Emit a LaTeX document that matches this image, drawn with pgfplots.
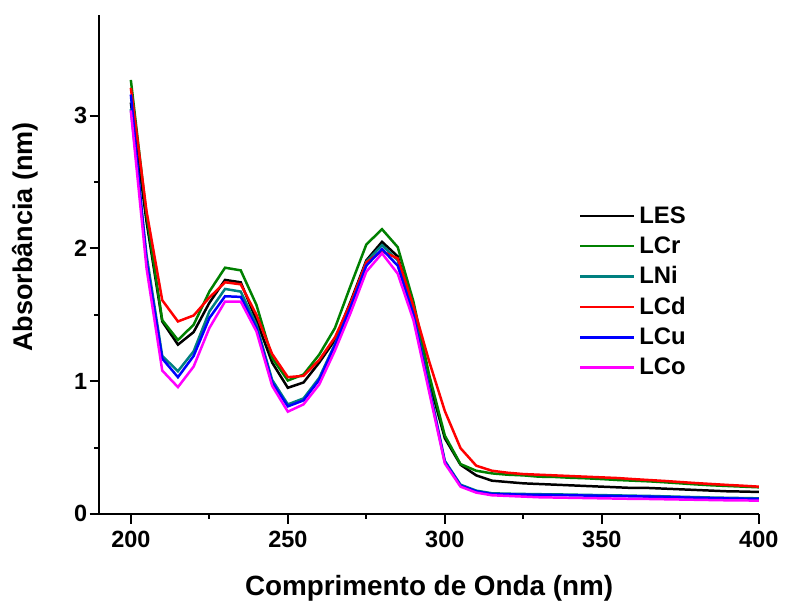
\documentclass[border=0pt]{standalone}
\usepackage{fontspec}
\setmainfont{Liberation Sans}
\usepackage{pgfplots}
\pgfplotsset{compat=1.18}

\definecolor{cLES}{RGB}{0,0,0}
\definecolor{cLCr}{RGB}{0,128,0}
\definecolor{cLNi}{RGB}{0,128,128}
\definecolor{cLCd}{RGB}{255,0,0}
\definecolor{cLCu}{RGB}{0,0,255}
\definecolor{cLCo}{RGB}{255,0,255}

\begin{document}
\begin{tikzpicture}
\begin{axis}[
  scale only axis,
  width=331.5pt, height=250.85pt,
  xmin=190, xmax=400,
  ymin=0, ymax=3.76,
  axis lines*=left,
  axis line style={line width=1pt},
  xtick={200,250,300,350,400},
  ytick={0,1,2,3},
  minor x tick num=1,
  minor y tick num=1,
  tick align=outside,
  major tick length=5pt,
  minor tick length=2.5pt,
  tick style={line width=1pt, black},
  /pgf/number format/assume math mode=true,
  tick label style={font=\fontsize{11.8}{13}\selectfont\bfseries},
  yticklabel style={inner sep=1pt},
  xlabel={Comprimento de Onda (nm)},
  ylabel={Absorbância (nm)},
  label style={font=\fontsize{14}{16}\selectfont\bfseries},
  xlabel style={at={(rel axis cs:0.5,0)}, anchor=base, yshift=-41pt},
  ylabel style={at={(rel axis cs:0,0.555)}, anchor=base, yshift=33.5pt,
    font=\fontsize{13.6}{16}\selectfont\bfseries},
  legend style={draw=none, fill=none, at={(rel axis cs:0.727,0.625)},
    anchor=north west, font=\fontsize{12}{13}\selectfont\bfseries,
    row sep=1.2pt, inner sep=0pt, cells={anchor=west}},
  legend image code/.code={\draw[#1] (0pt,0pt) -- (27pt,0pt);},
  every axis plot/.append style={line width=1.25pt},
  clip=false,
]
\addplot[cLES] coordinates {
(200,3.10)(205,2.20)(210,1.45)(215,1.275)(220,1.37)(225,1.59)(230,1.763)(235,1.745)
(240,1.46)(245,1.14)(250,0.95)(255,0.99)(260,1.14)(265,1.31)(270,1.60)(275,1.91)
(280,2.05)(285,1.94)(290,1.55)(295,1.00)(300,0.57)(305,0.37)(310,0.29)(315,0.25)
(320,0.24)(325,0.23)(330,0.225)(335,0.22)(340,0.215)(345,0.21)(350,0.205)(355,0.20)
(360,0.195)(365,0.195)(370,0.19)(375,0.185)(380,0.18)(385,0.175)(390,0.17)(395,0.168)
(400,0.165)};
\addlegendentry{LES}
\addplot[cLCr] coordinates {
(200,3.27)(205,2.25)(210,1.46)(215,1.31)(220,1.425)(225,1.675)(230,1.855)(235,1.835)
(240,1.575)(245,1.175)(250,1.005)(255,1.05)(260,1.20)(265,1.40)(270,1.72)(275,2.03)
(280,2.145)(285,2.01)(290,1.60)(295,1.05)(300,0.59)(305,0.375)(310,0.325)(315,0.305)
(320,0.295)(325,0.29)(330,0.28)(335,0.278)(340,0.272)(345,0.268)(350,0.262)(355,0.255)
(360,0.25)(365,0.245)(370,0.238)(375,0.23)(380,0.222)(385,0.215)(390,0.21)(395,0.205)
(400,0.20)};
\addlegendentry{LCr}
\addplot[cLNi] coordinates {
(200,3.05)(205,1.95)(210,1.19)(215,1.075)(220,1.225)(225,1.525)(230,1.695)(235,1.675)
(240,1.425)(245,1.01)(250,0.825)(255,0.87)(260,1.025)(265,1.28)(270,1.57)(275,1.90)
(280,2.025)(285,1.91)(290,1.52)(295,0.96)(300,0.40)(305,0.22)(310,0.175)(315,0.155)
(320,0.152)(325,0.15)(330,0.148)(335,0.147)(340,0.145)(345,0.143)(350,0.141)(355,0.139)
(360,0.137)(365,0.135)(370,0.132)(375,0.129)(380,0.126)(385,0.123)(390,0.121)(395,0.119)
(400,0.117)};
\addlegendentry{LNi}
\addplot[cLCd] coordinates {
(200,3.21)(205,2.28)(210,1.61)(215,1.45)(220,1.495)(225,1.63)(230,1.745)(235,1.73)
(240,1.50)(245,1.205)(250,1.03)(255,1.04)(260,1.16)(265,1.33)(270,1.59)(275,1.895)
(280,1.98)(285,1.925)(290,1.565)(295,1.15)(300,0.775)(305,0.495)(310,0.363)(315,0.325)
(320,0.31)(325,0.30)(330,0.295)(335,0.29)(340,0.285)(345,0.28)(350,0.275)(355,0.27)
(360,0.262)(365,0.255)(370,0.248)(375,0.24)(380,0.232)(385,0.225)(390,0.218)(395,0.212)
(400,0.205)};
\addlegendentry{LCd}
\addplot[cLCu] coordinates {
(200,3.16)(205,1.90)(210,1.17)(215,1.03)(220,1.19)(225,1.475)(230,1.64)(235,1.635)
(240,1.40)(245,0.99)(250,0.81)(255,0.855)(260,1.01)(265,1.27)(270,1.56)(275,1.87)
(280,1.995)(285,1.87)(290,1.50)(295,0.94)(300,0.39)(305,0.213)(310,0.17)(315,0.15)
(320,0.147)(325,0.145)(330,0.143)(335,0.142)(340,0.14)(345,0.138)(350,0.136)(355,0.134)
(360,0.132)(365,0.13)(370,0.127)(375,0.124)(380,0.121)(385,0.118)(390,0.116)(395,0.114)
(400,0.112)};
\addlegendentry{LCu}
\addplot[cLCo] coordinates {
(200,3.04)(205,1.85)(210,1.08)(215,0.955)(220,1.11)(225,1.40)(230,1.60)(235,1.60)
(240,1.375)(245,0.965)(250,0.77)(255,0.825)(260,0.975)(265,1.23)(270,1.515)(275,1.825)
(280,1.963)(285,1.81)(290,1.46)(295,0.92)(300,0.38)(305,0.205)(310,0.16)(315,0.14)
(320,0.135)(325,0.13)(330,0.125)(335,0.123)(340,0.121)(345,0.119)(350,0.117)(355,0.115)
(360,0.113)(365,0.112)(370,0.11)(375,0.108)(380,0.106)(385,0.104)(390,0.102)(395,0.101)
(400,0.10)};
\addlegendentry{LCo}
\coordinate (bl) at (rel axis cs:0,0);
\coordinate (tr) at (rel axis cs:1,1);
\end{axis}
\path (bl) ++(-50pt,-44pt) (tr) ++(11pt,7.5pt);
\end{tikzpicture}
\end{document}
